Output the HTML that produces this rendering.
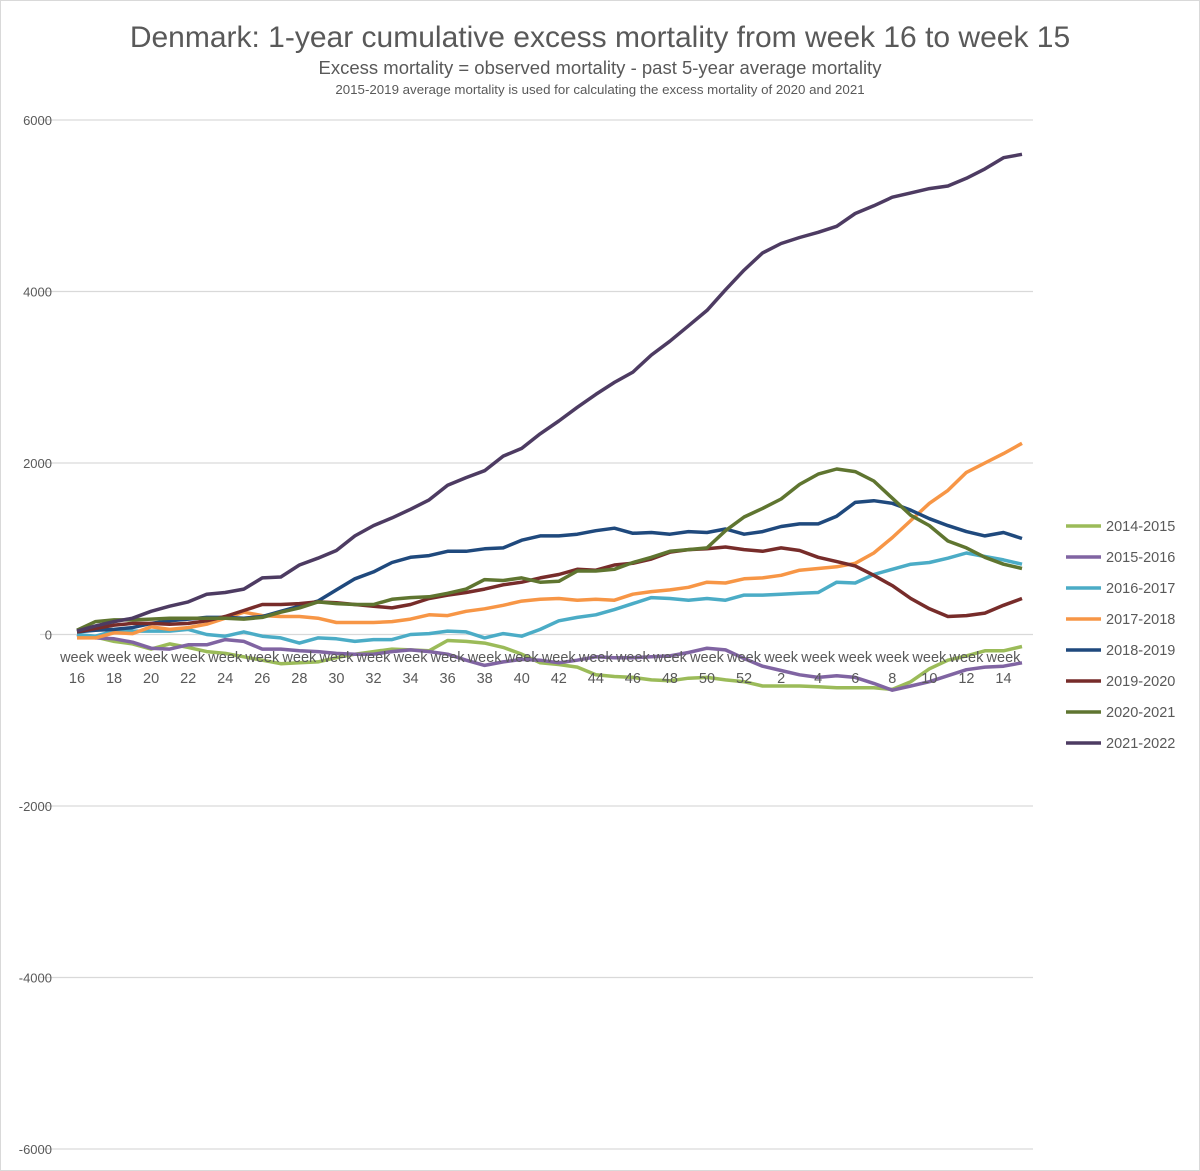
<!DOCTYPE html>
<html><head><meta charset="utf-8">
<style>
body{margin:0;background:#fff;}
svg{display:block;font-family:"Liberation Sans",Arial,sans-serif;}
</style></head>
<body>
<svg id="chart" width="1200" height="1171">
<rect x="0.5" y="0.5" width="1199" height="1170" fill="#fff" stroke="#d9d9d9"/>
<text x="600" y="47" text-anchor="middle" font-size="30" fill="#595959">Denmark: 1-year cumulative excess mortality from week 16 to week 15</text>
<text x="600" y="74" text-anchor="middle" font-size="18.5" fill="#595959">Excess mortality = observed mortality -  past 5-year average mortality</text>
<text x="600" y="94" text-anchor="middle" font-size="13.3" fill="#595959">2015-2019 average mortality is used for calculating the excess mortality of 2020 and 2021</text>
<g id="grid"></g><g id="yticks"></g><g id="series"></g><g id="xticks"></g><g id="legend"></g>
</svg>
<script>
const weeks = [16,17,18,19,20,21,22,23,24,25,26,27,28,29,30,31,32,33,34,35,36,37,38,39,40,41,42,43,44,45,46,47,48,49,50,51,52,1,2,3,4,5,6,7,8,9,10,11,12,13,14,15];
const yTicks = [6000,4000,2000,0,-2000,-4000,-6000];
const seriesNames = ["2014-2015","2015-2016","2016-2017","2017-2018","2018-2019","2019-2020","2020-2021","2021-2022"];
const seriesColors = ["#9bbb59","#8064a2","#4bacc6","#f79646","#1f497d","#772c2a","#5f7530","#4d3b62"];
const s2014 = [0,-30,-80,-110,-170,-110,-150,-200,-220,-260,-300,-340,-330,-320,-270,-230,-200,-170,-180,-190,-70,-80,-100,-150,-230,-330,-350,-380,-470,-490,-500,-530,-540,-510,-500,-530,-550,-600,-600,-600,-610,-620,-620,-620,-640,-550,-400,-300,-250,-190,-190,-140];
const s2015 = [0,-40,-50,-90,-160,-170,-120,-120,-60,-80,-170,-170,-190,-200,-220,-230,-230,-200,-180,-200,-230,-300,-360,-320,-290,-300,-330,-300,-260,-270,-270,-260,-250,-210,-160,-180,-280,-370,-420,-470,-500,-480,-500,-570,-650,-600,-550,-480,-410,-380,-370,-330];
const s2016 = [0,-20,40,40,40,40,60,0,-20,30,-20,-40,-100,-40,-50,-80,-60,-60,0,10,40,30,-40,10,-20,60,160,200,230,290,360,430,420,400,420,400,460,460,470,480,490,610,600,700,760,820,840,890,950,910,870,820];
const s2017 = [-40,-40,20,10,90,60,80,120,190,260,220,210,210,190,140,140,140,150,180,230,220,270,300,340,390,410,420,400,410,400,470,500,520,550,610,600,650,660,690,750,770,790,830,950,1130,1330,1530,1680,1890,2000,2110,2230];
const s2018 = [30,50,60,80,130,160,180,200,200,190,210,270,330,390,520,650,730,840,900,920,970,970,1000,1010,1100,1150,1150,1170,1210,1240,1180,1190,1170,1200,1190,1230,1170,1200,1260,1290,1290,1380,1540,1560,1530,1450,1350,1270,1200,1150,1190,1120];
const s2019 = [30,70,110,130,130,120,130,160,210,280,350,350,360,380,370,350,330,310,350,420,460,490,530,580,610,660,700,760,750,810,830,880,960,990,1000,1020,990,970,1010,980,900,850,800,690,570,420,300,210,220,250,340,420];
const s2020 = [50,150,170,170,180,190,190,190,190,180,200,260,310,380,360,350,350,410,430,440,480,530,640,630,660,610,620,740,740,760,840,900,970,990,1010,1210,1370,1470,1580,1750,1870,1930,1900,1790,1590,1390,1270,1090,1010,900,820,770];
const s2021 = [40,100,150,190,270,330,380,470,490,530,660,670,810,890,980,1150,1270,1360,1460,1570,1740,1830,1910,2080,2170,2340,2490,2650,2800,2940,3060,3260,3420,3600,3780,4020,4250,4450,4560,4630,4690,4760,4910,5000,5100,5150,5200,5230,5320,5430,5560,5600];
const allSeries = [s2014,s2015,s2016,s2017,s2018,s2019,s2020,s2021];

const NS = "http://www.w3.org/2000/svg";
const x0 = 77, x1 = 1022, yTop = 120, yBot = 1149;
const xs = i => x0 + i * (x1 - x0) / (weeks.length - 1);
const ys = v => yTop + (6000 - v) * (yBot - yTop) / 12000;
function mk(tag, attrs, parent){const e=document.createElementNS(NS,tag);for(const k in attrs)e.setAttribute(k,attrs[k]);parent.appendChild(e);return e;}

const grid = document.getElementById("grid"), yt = document.getElementById("yticks");
yTicks.forEach(v => {
  const l = mk("line",{x1:40,x2:1033,y1:ys(v),y2:ys(v),stroke:"#d9d9d9","stroke-width":1.3},grid);
  
  
  const t = mk("text",{x:52,y:ys(v)+5,"text-anchor":"end","font-size":13,fill:"#595959"},yt);
  t.textContent = v;
  
  
});

const xt = document.getElementById("xticks");
weeks.forEach((w,i) => {
  if (i % 2 !== 0) return;
  const t1 = mk("text",{x:xs(i),y:662,"text-anchor":"middle","font-size":14.5,fill:"#595959"},xt);
  t1.textContent = "week";
  
  
  const t2 = mk("text",{x:xs(i),y:683,"text-anchor":"middle","font-size":14.5,fill:"#595959"},xt);
  t2.textContent = w;
  
  
});

const sg = document.getElementById("series");
allSeries.forEach((s,k) => {
  const d = s.map((v,i)=>(i?"L":"M")+xs(i).toFixed(1)+","+ys(v).toFixed(1)).join("");
  const p = mk("path",{d:d,fill:"none",stroke:seriesColors[k],"stroke-width":3.5,"stroke-linejoin":"round"},sg);
  
  
});

const lg = document.getElementById("legend");
seriesNames.forEach((n,k) => {
  const y = 526 + k * 31;
  const l = mk("line",{x1:1066,x2:1101,y1:y,y2:y,stroke:seriesColors[k],"stroke-width":3.5},lg);
  
  
  const t = mk("text",{x:1106,y:y+5,"font-size":14.5,fill:"#595959"},lg);
  t.textContent = n;
  
  
});
</script>
</body></html>
